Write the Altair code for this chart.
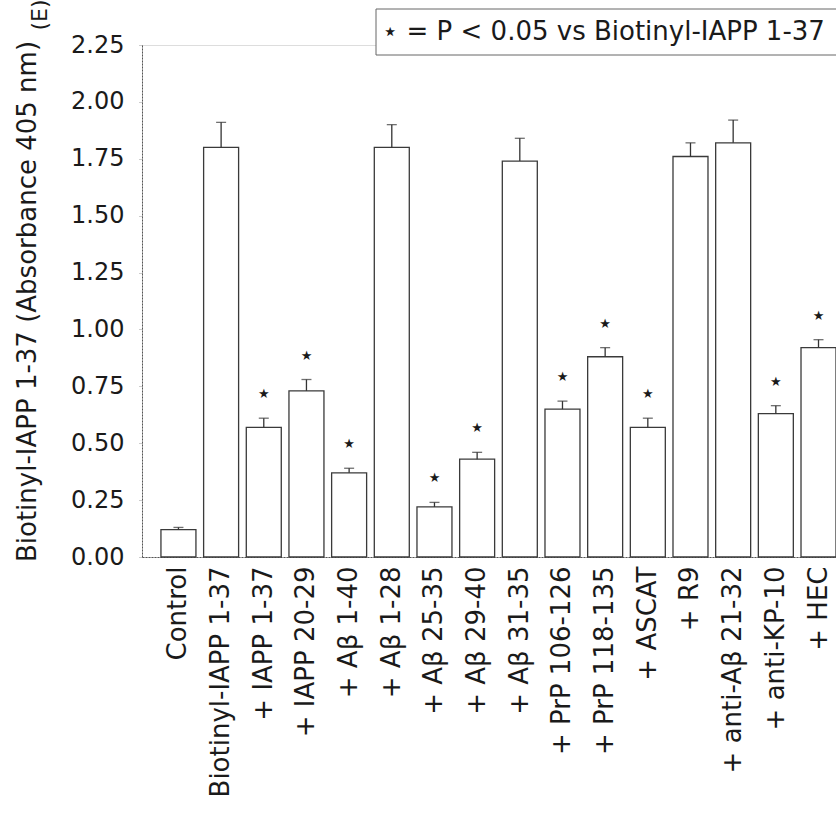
import altair as alt
import pandas as pd

categories = ["Control", "Biotinyl-IAPP 1-37", "+ IAPP 1-37", "+ IAPP 20-29",
              "+ Aβ 1-40", "+ Aβ 1-28", "+ Aβ 25-35", "+ Aβ 29-40", "+ Aβ 31-35",
              "+ PrP 106-126", "+ PrP 118-135", "+ ASCAT", "+ R9",
              "+ anti-Aβ 21-32", "+ anti-KP-10", "+ HEC"]
values = [0.12, 1.80, 0.57, 0.73, 0.37, 1.80, 0.22, 0.43, 1.74,
          0.65, 0.88, 0.57, 1.76, 1.82, 0.63, 0.92]
sem = [0.01, 0.11, 0.04, 0.05, 0.02, 0.10, 0.02, 0.03, 0.10,
       0.035, 0.04, 0.04, 0.06, 0.10, 0.035, 0.035]
significant = [False, False, True, True, True, False, True, True, False,
               True, True, True, False, False, True, True]
y_ticks = [0, 0.25, 0.5, 0.75, 1.0, 1.25, 1.5, 1.75, 2.0, 2.25]

df = pd.DataFrame({"cat": categories, "value": values, "sem": sem, "sig": significant})

FONT = "DejaVu Sans"
INK = "#1a1a1a"
LINE = "#555555"

xenc = alt.X("cat:N", sort=categories,
             scale=alt.Scale(paddingInner=0.18, paddingOuter=0.222, align=1),
             axis=alt.Axis(title=None, labelAngle=-90, labelAlign="right", labelBaseline="middle",
                           labelFontSize=26, labelFont=FONT, labelColor=INK, labelPadding=9,
                           ticks=False, domainColor=LINE, domainWidth=1, domainDash=[2, 1],
                           labelLimit=400))
yscale = alt.Scale(domain=[0, 2.25], nice=False)

base = alt.Chart(df).transform_calculate(top="datum.value + datum.sem")

bars = base.mark_bar(fill="white", stroke="#3a3a3a", strokeWidth=1.3).encode(
    x=xenc,
    y=alt.Y("value:Q", scale=yscale,
            axis=alt.Axis(title="Biotinyl-IAPP 1-37 (Absorbance 405 nm)",
                          values=y_ticks, format=".2f", grid=False,
                          labelFontSize=24, labelFont=FONT, labelColor=INK, labelPadding=14,
                          titleFontSize=26, titleFont=FONT, titleColor=INK, titleFontWeight="normal",
                          titlePadding=30, tickSize=4, tickColor="#999999", tickDash=[1, 1],
                          domainColor=LINE, domainWidth=1, domainDash=[2, 1])),
)

err_rule = base.mark_rule(color="#333333", strokeWidth=1.3).encode(
    x=alt.X("cat:N", sort=categories),
    y=alt.Y("value:Q", scale=yscale),
    y2="top:Q",
)
err_cap = base.mark_tick(color="#333333", thickness=1.3, size=10, orient="horizontal").encode(
    x=alt.X("cat:N", sort=categories),
    y=alt.Y("top:Q", scale=yscale),
)
stars = base.transform_filter("datum.sig").mark_text(
    text="★", fontSize=13, font=FONT, color=INK, baseline="middle", dy=-24
).encode(
    x=alt.X("cat:N", sort=categories),
    y=alt.Y("top:Q", scale=yscale),
)

one = "datum.cat == 'Control'"
legend_box = alt.Chart(df).transform_filter(one).mark_rect(
    fill="white", stroke="#666666", strokeWidth=1
).encode(x=alt.value(234), x2=alt.value(720), y=alt.value(-36), y2=alt.value(10))
legend_text = alt.Chart(df).transform_filter(one).mark_text(
    text="⋆ = P < 0.05 vs Biotinyl-IAPP 1-37", fontSize=26, font=FONT, color=INK,
    align="left", baseline="middle"
).encode(x=alt.value(240), y=alt.value(-13))
panel_label = alt.Chart(df).transform_filter(one).mark_text(
    text="(E)", fontSize=22, font=FONT, color=INK, angle=270, align="center", baseline="middle"
).encode(x=alt.value(-102), y=alt.value(-30))

chart = alt.layer(bars, err_rule, err_cap, stars, legend_box, legend_text, panel_label).properties(
    width=694, height=512,
    autosize=alt.AutoSizeParams(type="none"),
    padding={"left": 142, "top": 45, "right": 0, "bottom": 259},
).configure_view(stroke=None).configure(background="white")

chart.save("out.html", embed_options={"renderer": "svg", "actions": False})
